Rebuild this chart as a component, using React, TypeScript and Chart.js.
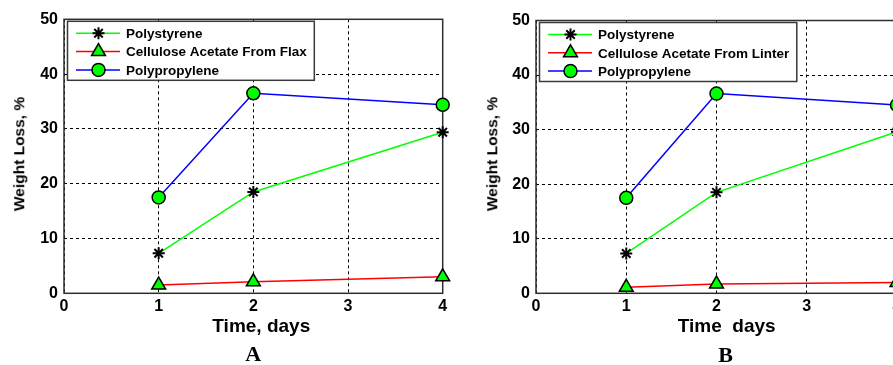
import React, { useEffect, useRef } from 'react';
import { Chart, registerables } from 'chart.js';
import { drawPoint } from 'chart.js/helpers';

Chart.register(...registerables);

// ---- data ----
const days = [1, 2, 4];
const xTickValues = [0, 1, 2, 3, 4];
const yTickValues = [0, 10, 20, 30, 40, 50];

const seriesNamesA = ['Polystyrene', 'Cellulose Acetate From Flax', 'Polypropylene'];
const polystyreneA = [7.3, 18.5, 29.4];
const celluloseFlax = [1.5, 2.1, 3.0];
const polypropyleneA = [17.5, 36.5, 34.4];

const seriesNamesB = ['Polystyrene', 'Cellulose Acetate From Linter', 'Polypropylene'];
const polystyreneB = [7.3, 18.5, 29.6];
const celluloseLinter = [1.1, 1.7, 2.0];
const polypropyleneB = [17.5, 36.6, 34.5];

const SANS = '"Liberation Sans", Arial, Helvetica, sans-serif';
const GREEN = '#00ff00';

const framePlugin = {
  id: 'frameBox',
  beforeDatasetsDraw(chart: any) {
    const { ctx, chartArea: a } = chart;
    ctx.save();
    ctx.strokeStyle = '#2e2e2e';
    ctx.lineWidth = 1.5;
    ctx.strokeRect(a.left, a.top, a.right - a.left, a.bottom - a.top);
    ctx.restore();
  },
};

const legendPlugin = {
  id: 'boxLegend',
  afterDatasetsDraw(chart: any) {
    const { ctx, chartArea: a } = chart;
    const ds = chart.data.datasets;
    ctx.save();
    ctx.font = `bold 13.5px ${SANS}`;
    const tw = Math.max(...ds.map((d: any) => ctx.measureText(d.label).width));
    const x0 = a.left + 3.5;
    const y0 = a.top + 2;
    const w = 58.5 + tw + 7.5;
    const h = 59;
    ctx.fillStyle = '#ffffff';
    ctx.fillRect(x0, y0, w, h);
    ctx.strokeStyle = '#3a3a3a';
    ctx.lineWidth = 1.5;
    ctx.strokeRect(x0, y0, w, h);
    ds.forEach((d: any, i: number) => {
      const y = y0 + 12 + i * 18.3;
      ctx.strokeStyle = d.borderColor;
      ctx.lineWidth = d.borderWidth;
      ctx.beginPath();
      ctx.moveTo(x0 + 8.5, y);
      ctx.lineTo(x0 + 52.5, y);
      ctx.stroke();
      ctx.fillStyle = d.pointBackgroundColor;
      ctx.strokeStyle = d.pointBorderColor;
      ctx.lineWidth = d.pointBorderWidth;
      drawPoint(ctx, { pointStyle: d.pointStyle, radius: d.pointRadius, rotation: 0, borderWidth: d.pointBorderWidth } as any, x0 + 31, y);
      ctx.fillStyle = '#000';
      ctx.textBaseline = 'middle';
      ctx.textAlign = 'left';
      ctx.fillText(d.label, x0 + 58.5, y + 1);
    });
    ctx.restore();
  },
};

function makeDatasets(names: string[], ps: number[], ca: number[], pp: number[]) {
  const pts = (vals: number[]) => days.map((d, i) => ({ x: d, y: vals[i] }));
  return [
    {
      label: names[0], data: pts(ps), borderColor: GREEN, borderWidth: 1.5,
      pointStyle: 'star', pointRadius: 6, pointBorderColor: '#000', pointBackgroundColor: '#000', pointBorderWidth: 2,
      clip: false as any,
    },
    {
      label: names[1], data: pts(ca), borderColor: '#ff0000', borderWidth: 1.5,
      pointStyle: 'triangle', pointRadius: 8, pointBorderColor: '#000', pointBackgroundColor: GREEN, pointBorderWidth: 1.5,
      clip: false as any,
    },
    {
      label: names[2], data: pts(pp), borderColor: '#0000ff', borderWidth: 1.5,
      pointStyle: 'circle', pointRadius: 6.5, pointBorderColor: '#000', pointBackgroundColor: GREEN, pointBorderWidth: 1.5,
      clip: false as any,
    },
  ];
}

type PanelProps = {
  left: number; width: number; height: number; padTop: number; padRight: number;
  names: string[]; ps: number[]; ca: number[]; pp: number[];
};

function Panel(p: PanelProps) {
  const ref = useRef<HTMLCanvasElement>(null);
  useEffect(() => {
    if (!ref.current) return;
    const tickFont = { family: SANS, size: 16, weight: 'bold' as const };
    const chart = new Chart(ref.current, {
      type: 'line',
      data: { datasets: makeDatasets(p.names, p.ps, p.ca, p.pp) as any },
      options: {
        animation: false,
        responsive: false,
        devicePixelRatio: 1,
        layout: { padding: { left: 0, top: p.padTop, right: p.padRight, bottom: 0 } },
        plugins: { legend: { display: false }, tooltip: { enabled: false }, title: { display: false } },
        scales: {
          x: {
            type: 'linear', min: 0, max: 4,
            afterBuildTicks: (s: any) => { s.ticks = xTickValues.map((v) => ({ value: v })); },
            afterFit: (s: any) => { s.height = p.height - 293.3; },
            ticks: { font: tickFont, color: '#000', padding: 4, maxRotation: 0 },
            grid: { color: '#000', lineWidth: 1, drawTicks: false },
            border: { display: false, dash: [3, 3] },
          },
          y: {
            type: 'linear', min: 0, max: 50,
            afterBuildTicks: (s: any) => { s.ticks = yTickValues.map((v) => ({ value: v })); },
            afterFit: (s: any) => { s.width = 64; },
            ticks: { font: tickFont, color: '#000', padding: 6 },
            grid: { color: '#000', lineWidth: 1, drawTicks: false },
            border: { display: false, dash: [3, 3] },
          },
        },
      },
      plugins: [framePlugin, legendPlugin],
    });
    return () => chart.destroy();
  }, []);
  return (
    <canvas
      ref={ref}
      width={p.width}
      height={p.height}
      style={{ position: 'absolute', left: p.left, top: 0, width: p.width, height: p.height, display: 'block' }}
    />
  );
}

function Label(props: { text: string; cx: number; cy: number; size: number; serif?: boolean; rotate?: boolean }) {
  return (
    <div
      style={{
        position: 'absolute', left: props.cx, top: props.cy,
        transform: `translate(-50%, -50%)${props.rotate ? ' rotate(-90deg)' : ''}`,
        whiteSpace: 'pre', fontWeight: 'bold', fontSize: props.size, lineHeight: 1,
        fontFamily: props.serif ? '"Liberation Serif", "Times New Roman", serif' : SANS,
        color: '#000',
      }}
    >
      {props.text}
    </div>
  );
}

export default function App() {
  return (
    <div style={{ position: 'absolute', left: 0, top: 0, width: 893, height: 365, overflow: 'hidden', background: '#fff' }}>
      <Panel left={0} width={470} height={320} padTop={19.3} padRight={27.3}
        names={seriesNamesA} ps={polystyreneA} ca={celluloseFlax} pp={polypropyleneA} />
      <Panel left={472} width={470} height={320} padTop={20.5} padRight={45}
        names={seriesNamesB} ps={polystyreneB} ca={celluloseLinter} pp={polypropyleneB} />
      <Label text="Weight Loss, %" cx={18.5} cy={154} size={15.5} rotate />
      <Label text="Time, days" cx={261.3} cy={325} size={19} />
      <Label text="A" cx={253.3} cy={354} size={22} serif />
      <Label text="Weight Loss, %" cx={491.7} cy={154} size={15.5} rotate />
      <Label text="Time  days" cx={726.7} cy={325} size={19} />
      <Label text="B" cx={725.5} cy={355} size={22} serif />
    </div>
  );
}
